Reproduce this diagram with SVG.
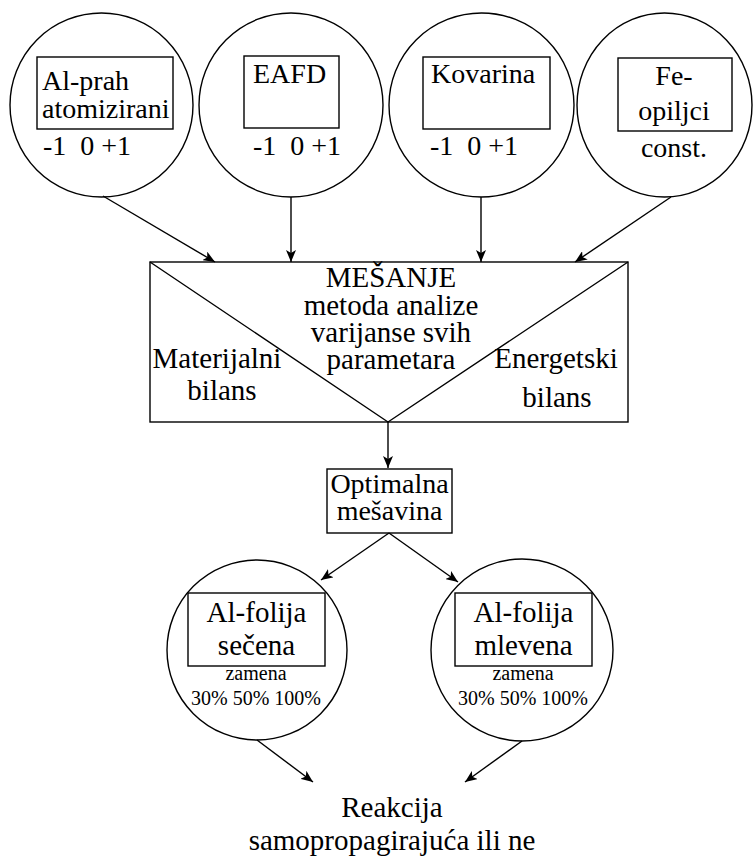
<svg xmlns="http://www.w3.org/2000/svg" width="753" height="856" viewBox="0 0 753 856">
<defs>
<marker id="arr" viewBox="0 0 12 10" refX="12" refY="5" markerWidth="12" markerHeight="10" markerUnits="userSpaceOnUse" orient="auto">
<path d="M0,0 L12,5 L0,10 L3,5 Z" fill="#000"/>
</marker>
</defs>
<style>
.s{fill:none;stroke:#000;stroke-width:1.4}
.t{font-family:"Liberation Serif","Times New Roman",serif;font-size:28px;fill:#000}
.b{font-size:29px}
.m{text-anchor:middle}
.sm{font-family:"Liberation Serif","Times New Roman",serif;font-size:20px;fill:#000;text-anchor:middle}
.c{fill:none;stroke:#000;stroke-width:1.4;marker-end:url(#arr)}
</style>
<rect width="753" height="856" fill="#fff"/>
<g id="alprah">
<ellipse class="s" cx="101.5" cy="105" rx="91.5" ry="92"/>
<rect class="s" x="37" y="57" width="136" height="72"/>
<text class="t" x="42" y="90">Al-prah</text>
<text class="t" x="42" y="118">atomizirani</text>
<text class="t" x="43" y="155" xml:space="preserve">-1  0 +1</text>
</g>
<g id="eafd">
<ellipse class="s" cx="291" cy="105" rx="92" ry="92"/>
<rect class="s" x="244" y="56" width="95" height="72"/>
<text class="t" x="253" y="83">EAFD</text>
<text class="t" x="253" y="155" xml:space="preserve">-1  0 +1</text>
</g>
<g id="kovarina">
<ellipse class="s" cx="481.5" cy="105" rx="92.5" ry="92"/>
<rect class="s" x="423" y="57" width="127" height="72"/>
<text class="t" x="431" y="83">Kovarina</text>
<text class="t" x="430" y="155" xml:space="preserve">-1  0 +1</text>
</g>
<g id="fe">
<ellipse class="s" cx="664.5" cy="105" rx="87.5" ry="92"/>
<rect class="s" x="618" y="58" width="114" height="73"/>
<text class="t m" x="674" y="85">Fe-</text>
<text class="t m" x="674" y="120">opiljci</text>
<text class="t m" x="674" y="157">const.</text>
</g>
<g id="mesanje">
<rect class="s" x="150" y="262" width="478" height="160"/>
<path class="s" d="M150,262 L388,422 L628,262"/>
<text class="t b m" x="391" y="287">MEŠANJE</text>
<text class="t b m" x="391" y="315">metoda analize</text>
<text class="t b m" x="391" y="342">varijanse svih</text>
<text class="t b m" x="391" y="369">parametara</text>
<text class="t b m" x="217" y="368">Materijalni</text>
<text class="t b m" x="222" y="400">bilans</text>
<text class="t b m" x="556" y="368">Energetski</text>
<text class="t b m" x="557" y="407">bilans</text>
</g>
<g id="optimalna">
<rect class="s" x="327" y="469" width="125" height="64"/>
<text class="t m" x="389.5" y="493">Optimalna</text>
<text class="t m" x="389.5" y="520">mešavina</text>
</g>
<g id="secena">
<circle class="s" cx="257" cy="650" r="90"/>
<rect class="s" x="188" y="593" width="137" height="73"/>
<text class="t b m" x="256.5" y="622">Al-folija</text>
<text class="t b m" x="256.5" y="655">sečena</text>
<text class="sm" x="256" y="680">zamena</text>
<text class="sm" x="256" y="705">30% 50% 100%</text>
</g>
<g id="mlevena">
<circle class="s" cx="522" cy="650" r="91"/>
<rect class="s" x="455" y="593" width="137" height="73"/>
<text class="t b m" x="523.5" y="622">Al-folija</text>
<text class="t b m" x="523.5" y="655">mlevena</text>
<text class="sm" x="523" y="680">zamena</text>
<text class="sm" x="523" y="705">30% 50% 100%</text>
</g>
<g id="reakcija">
<text class="t b m" x="392" y="817">Reakcija</text>
<text class="t b m" x="392" y="850">samopropagirajuća ili ne</text>
</g>
<g id="connectors">
<line class="c" x1="103" y1="196" x2="215" y2="262"/>
<line class="c" x1="291" y1="197" x2="291" y2="262"/>
<line class="c" x1="481" y1="197" x2="481" y2="262"/>
<line class="c" x1="671" y1="197" x2="575" y2="262"/>
<line class="c" x1="388" y1="422" x2="388" y2="468"/>
<line class="c" x1="389" y1="533" x2="321" y2="580"/>
<line class="c" x1="389" y1="533" x2="458" y2="582"/>
<line class="c" x1="257" y1="740" x2="313" y2="782"/>
<line class="c" x1="522" y1="741" x2="465" y2="782"/>
</g>
</svg>
